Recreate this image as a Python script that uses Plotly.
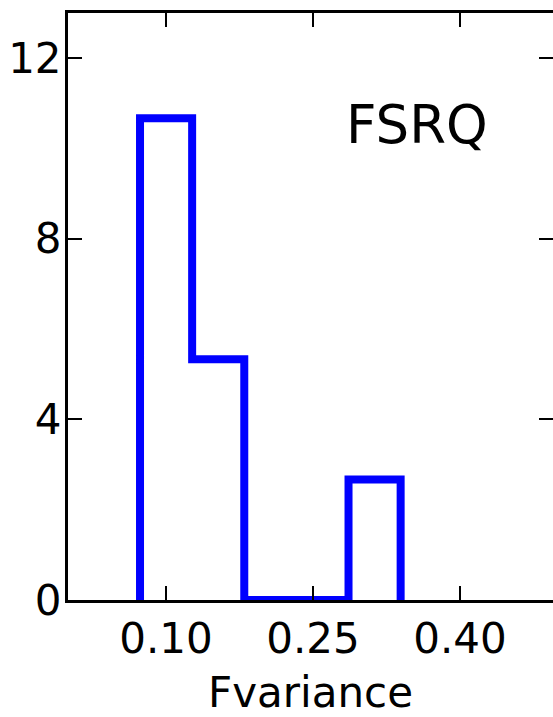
import plotly.graph_objects as go

# Histogram data (density histogram of Fvariance for FSRQ)
bin_edges = [0.0735, 0.1267, 0.1799, 0.2331, 0.2863, 0.3395]
bin_heights = [10.67, 5.33, 0.0, 0.0, 2.67]

x_tickvals = [0.10, 0.25, 0.40]
x_ticktext = ["0.10", "0.25", "0.40"]
y_tickvals = [0, 4, 8, 12]
y_ticktext = ["0", "4", "8", "12"]

label_text = "FSRQ"
x_title = "Fvariance"

# Build the step outline from the bins
xs = [bin_edges[0]]
ys = [0.0]
for i, h in enumerate(bin_heights):
    xs += [bin_edges[i], bin_edges[i + 1]]
    ys += [h, h]
xs.append(bin_edges[-1])
ys.append(0.0)

FONT = "DejaVu Sans"

fig = go.Figure()
fig.add_trace(go.Scatter(
    x=xs, y=ys, mode="lines",
    line=dict(color="#0000ff", width=8),
    showlegend=False, hoverinfo="skip",
))
# invisible trace to anchor the right-hand tick axis
fig.add_trace(go.Scatter(x=[0.2], y=[1], yaxis="y2", mode="markers",
                         marker=dict(opacity=0), showlegend=False, hoverinfo="skip"))

fig.add_annotation(x=0.356, y=10.52, xref="x", yref="y", text=label_text,
                   showarrow=False, font=dict(family=FONT, size=53, color="black"))

fig.update_layout(
    width=553, height=717,
    margin=dict(l=68, r=0, t=13, b=117),
    paper_bgcolor="white", plot_bgcolor="white",
    font=dict(family=FONT, color="black"),
    xaxis=dict(
        range=[0, 0.495], showgrid=False, zeroline=False,
        showline=True, linewidth=3, linecolor="black", mirror="ticks",
        ticks="inside", ticklen=14, tickwidth=1.5, tickcolor="black",
        tickvals=x_tickvals, ticktext=x_ticktext,
        tickfont=dict(family=FONT, size=42, color="black"),
        title=dict(text=x_title, font=dict(family=FONT, size=42, color="black"), standoff=16),
    ),
    yaxis=dict(
        range=[0, 13], showgrid=False, zeroline=False,
        showline=True, linewidth=3, linecolor="black",
        ticks="inside", ticklen=14, tickwidth=1.5, tickcolor="black",
        tickvals=y_tickvals, ticktext=y_ticktext, ticklabelstandoff=-5,
        tickfont=dict(family=FONT, size=42, color="black"),
    ),
    yaxis2=dict(
        range=[0, 13], overlaying="y", side="right", showgrid=False, zeroline=False,
        showline=False, ticks="inside", ticklen=14, tickwidth=1.5, tickcolor="black",
        tickvals=y_tickvals, showticklabels=False,
    ),
)

fig.write_html("out.html")
